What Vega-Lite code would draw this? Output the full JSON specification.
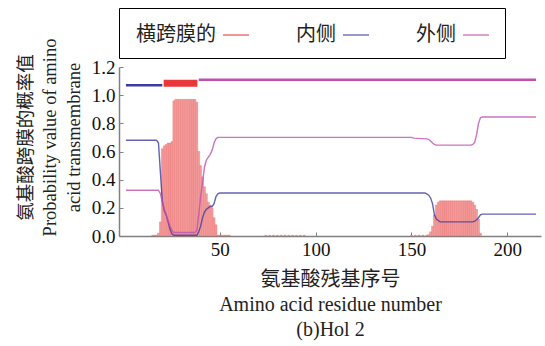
{
  "$schema": "https://vega.github.io/schema/vega-lite/v6.json",
  "width": 422,
  "height": 169,
  "padding": {"left": 16, "top": 7, "right": 2, "bottom": 5},
  "background": "white",
  "datasets": {
    "tm": [
      {"r":15,"p":0.006},{"r":16,"p":0.006},{"r":17,"p":0.006},{"r":18,"p":0.02},{"r":19,"p":0.1},
      {"r":20,"p":0.62},{"r":21,"p":0.64},{"r":22,"p":0.65},{"r":23,"p":0.66},{"r":24,"p":0.66},{"r":25,"p":0.67},
      {"r":26,"p":0.96},{"r":27,"p":0.97},{"r":28,"p":0.97},{"r":29,"p":0.97},{"r":30,"p":0.97},{"r":31,"p":0.97},
      {"r":32,"p":0.97},{"r":33,"p":0.97},{"r":34,"p":0.97},{"r":35,"p":0.97},{"r":36,"p":0.97},{"r":37,"p":0.97},
      {"r":38,"p":0.95},{"r":39,"p":0.6},{"r":40,"p":0.5},{"r":41,"p":0.42},{"r":42,"p":0.35},{"r":43,"p":0.3},
      {"r":44,"p":0.24},{"r":45,"p":0.22},{"r":46,"p":0.2},{"r":47,"p":0.13},{"r":48,"p":0.08},
      {"r":49,"p":0.006},{"r":50,"p":0.006},{"r":51,"p":0.006},{"r":52,"p":0.006},{"r":53,"p":0.006},{"r":54,"p":0.006},{"r":55,"p":0.006},
      {"r":74,"p":0.006},{"r":76,"p":0.006},{"r":78,"p":0.006},{"r":80,"p":0.006},{"r":82,"p":0.006},{"r":84,"p":0.006},
      {"r":86,"p":0.006},{"r":88,"p":0.006},{"r":90,"p":0.006},{"r":92,"p":0.006},{"r":94,"p":0.006},
      {"r":150,"p":0.006},{"r":152,"p":0.006},{"r":154,"p":0.006},{"r":156,"p":0.006},{"r":158,"p":0.006},
      {"r":159,"p":0.01},{"r":160,"p":0.03},{"r":161,"p":0.07},{"r":162,"p":0.15},{"r":163,"p":0.22},{"r":164,"p":0.24},
      {"r":165,"p":0.25},{"r":166,"p":0.25},{"r":167,"p":0.25},{"r":168,"p":0.25},{"r":169,"p":0.25},{"r":170,"p":0.25},
      {"r":171,"p":0.25},{"r":172,"p":0.25},{"r":173,"p":0.25},{"r":174,"p":0.25},{"r":175,"p":0.25},{"r":176,"p":0.25},
      {"r":177,"p":0.25},{"r":178,"p":0.25},{"r":179,"p":0.25},{"r":180,"p":0.25},{"r":181,"p":0.25},
      {"r":182,"p":0.24},{"r":183,"p":0.22},{"r":184,"p":0.19},{"r":185,"p":0.12},{"r":186,"p":0.02}
    ],
    "lines": [
      {"type":"内侧","r":1,"p":0.68},{"type":"内侧","r":17,"p":0.68},{"type":"内侧","r":18,"p":0.66},{"type":"内侧","r":19,"p":0.45},
      {"type":"内侧","r":20,"p":0.25},{"type":"内侧","r":21,"p":0.18},{"type":"内侧","r":22,"p":0.15},{"type":"内侧","r":23,"p":0.1},
      {"type":"内侧","r":24,"p":0.05},{"type":"内侧","r":25,"p":0.015},{"type":"内侧","r":26,"p":0.005},{"type":"内侧","r":38,"p":0.005},
      {"type":"内侧","r":39,"p":0.03},{"type":"内侧","r":40,"p":0.07},{"type":"内侧","r":41,"p":0.13},{"type":"内侧","r":42,"p":0.17},
      {"type":"内侧","r":43,"p":0.19},{"type":"内侧","r":44,"p":0.2},{"type":"内侧","r":45,"p":0.21},{"type":"内侧","r":46,"p":0.21},
      {"type":"内侧","r":47,"p":0.23},{"type":"内侧","r":48,"p":0.28},{"type":"内侧","r":49,"p":0.3},{"type":"内侧","r":50,"p":0.305},
      {"type":"内侧","r":157,"p":0.305},{"type":"内侧","r":158,"p":0.3},{"type":"内侧","r":159,"p":0.29},{"type":"内侧","r":160,"p":0.27},
      {"type":"内侧","r":161,"p":0.23},{"type":"内侧","r":162,"p":0.15},{"type":"内侧","r":163,"p":0.12},{"type":"内侧","r":164,"p":0.11},
      {"type":"内侧","r":165,"p":0.1},{"type":"内侧","r":182,"p":0.1},{"type":"内侧","r":183,"p":0.105},{"type":"内侧","r":184,"p":0.115},
      {"type":"内侧","r":185,"p":0.13},{"type":"内侧","r":186,"p":0.15},{"type":"内侧","r":187,"p":0.155},{"type":"内侧","r":215,"p":0.155},
      {"type":"外侧","r":1,"p":0.325},{"type":"外侧","r":18,"p":0.325},{"type":"外侧","r":19,"p":0.3},{"type":"外侧","r":20,"p":0.24},
      {"type":"外侧","r":21,"p":0.19},{"type":"外侧","r":22,"p":0.15},{"type":"外侧","r":23,"p":0.11},{"type":"外侧","r":24,"p":0.07},
      {"type":"外侧","r":25,"p":0.04},{"type":"外侧","r":26,"p":0.025},{"type":"外侧","r":37,"p":0.025},{"type":"外侧","r":38,"p":0.04},
      {"type":"外侧","r":39,"p":0.15},{"type":"外侧","r":40,"p":0.28},{"type":"外侧","r":41,"p":0.38},{"type":"外侧","r":42,"p":0.49},
      {"type":"外侧","r":43,"p":0.54},{"type":"外侧","r":44,"p":0.56},{"type":"外侧","r":45,"p":0.58},{"type":"外侧","r":46,"p":0.61},
      {"type":"外侧","r":47,"p":0.66},{"type":"外侧","r":48,"p":0.69},{"type":"外侧","r":49,"p":0.7},{"type":"外侧","r":150,"p":0.7},
      {"type":"外侧","r":151,"p":0.695},{"type":"外侧","r":158,"p":0.69},{"type":"外侧","r":159,"p":0.685},{"type":"外侧","r":160,"p":0.675},
      {"type":"外侧","r":161,"p":0.66},{"type":"外侧","r":162,"p":0.65},{"type":"外侧","r":163,"p":0.645},{"type":"外侧","r":181,"p":0.645},
      {"type":"外侧","r":182,"p":0.65},{"type":"外侧","r":183,"p":0.665},{"type":"外侧","r":184,"p":0.72},{"type":"外侧","r":185,"p":0.8},
      {"type":"外侧","r":186,"p":0.84},{"type":"外侧","r":187,"p":0.845},{"type":"外侧","r":215,"p":0.845}
    ],
    "path": [
      {"type":"内侧","r":1,"end":20,"p":1.07},
      {"type":"横跨膜的","r":20.7,"end":38.3,"p":1.085},
      {"type":"外侧","r":39,"end":215,"p":1.11}
    ]
  },
  "encoding": {
    "x": {"field": "r", "type": "quantitative", "scale": {"domain": [0, 215], "nice": false},
      "axis": {"values": [50, 100, 150, 200], "title": ["氨基酸残基序号", "Amino acid residue number", "(b)Hol 2"]}},
    "y": {"field": "p", "type": "quantitative", "scale": {"domain": [0, 1.2], "nice": false},
      "axis": {"values": [0, 0.2, 0.4, 0.6, 0.8, 1.0, 1.2], "format": ".1f", "labelOverlap": false, "labelBound": false, "titleY": 70,
        "title": ["氨基酸跨膜的概率值", "Probability value of amino", "acid transmembrane"]}}
  },
  "layer": [
    {
      "data": {"name": "tm"},
      "mark": {"type": "bar", "size": 2, "color": "#f39e9e", "stroke": "#e65a5a", "strokeWidth": 0.3}
    },
    {
      "data": {"name": "lines"},
      "mark": {"type": "line", "strokeWidth": 1.4, "opacity": 0.8},
      "encoding": {
        "color": {"field": "type", "type": "nominal",
          "scale": {"domain": ["横跨膜的", "内侧", "外侧"], "range": ["#e8383a", "#3c3ca0", "#c050b0"]}}
      }
    },
    {
      "data": {"name": "path"},
      "transform": [{"filter": "datum.type !== '横跨膜的'"}],
      "mark": {"type": "rule", "strokeWidth": 2.5},
      "encoding": {
        "x2": {"field": "end"},
        "color": {"field": "type", "type": "nominal"}
      }
    },
    {
      "data": {"name": "path"},
      "transform": [{"filter": "datum.type === '横跨膜的'"}],
      "mark": {"type": "rule", "strokeWidth": 7},
      "encoding": {
        "x2": {"field": "end"},
        "color": {"field": "type", "type": "nominal"}
      }
    }
  ],
  "resolve": {"scale": {"color": "shared"}},
  "config": {
    "view": {"stroke": null},
    "axis": {
      "grid": false,
      "labelOverlap": false,
      "domainColor": "#808080",
      "domainWidth": 1.5,
      "tickColor": "#808080",
      "tickSize": -4,
      "labelFont": "Liberation Serif",
      "labelFontSize": 19,
      "labelColor": "#111",
      "titleFont": "Liberation Serif, Noto Sans CJK SC",
      "titleFontWeight": "normal",
      "titleColor": "#222"
    },
    "axisX": {"labelPadding": 8, "titlePadding": 10, "titleFontSize": 20, "titleLineHeight": 25},
    "axisY": {"labelPadding": 8, "titlePadding": 8, "titleFontSize": 18.5, "titleLineHeight": 24},
    "legend": {
      "orient": "top",
      "direction": "horizontal",
      "title": null,
      "labelFont": "Noto Sans CJK SC",
      "labelFontSize": 20,
      "labelColor": "#222",
      "symbolType": "stroke",
      "symbolSize": 676,
      "symbolStrokeWidth": 1.5,
      "symbolOpacity": 0.7,
      "labelAlign": "right",
      "labelOffset": -34,
      "symbolOffset": 90,
      "columnPadding": 0,
      "gridAlign": "none",
      "strokeColor": "black",
      "padding": 13,
      "offset": 9
    }
  }
}
